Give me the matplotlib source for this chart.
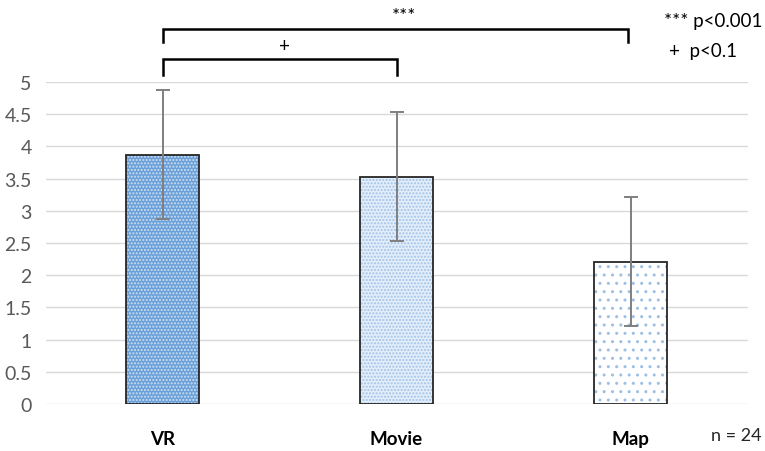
import numpy as np
import matplotlib
matplotlib.use('Agg')
import matplotlib.pyplot as plt

plt.rcParams['font.family'] = ['Lato', 'DejaVu Sans']
plt.rcParams['hatch.linewidth'] = 1.0

conditions = ['VR', 'Movie', 'Map']
means = [3.87, 3.53, 2.21]
errors = [1.0, 1.0, 1.0]
yticks = [0, 0.5, 1, 1.5, 2, 2.5, 3, 3.5, 4, 4.5, 5]

# fill colour, dot colour, hatch density per condition
styles = [
    ('#6a9fd8', '#cfe0f3', '.....'),
    ('#e3eefa', '#9fc2e8', '.....'),
    ('white', '#9dbfe6', '..'),
]

W, H = 765, 452
fig = plt.figure(figsize=(W / 100, H / 100), dpi=100)
ax = fig.add_axes([45.5 / W, 47 / H, 702 / W, 322 / H])

x = np.arange(len(conditions))
width = 0.31
for xi, m, (fc, dc, h) in zip(x, means, styles):
    ax.bar(xi, m, width, color=fc, edgecolor=dc, hatch=h, linewidth=0, zorder=2)
    ax.bar(xi, m, width, fill=False, edgecolor='#262626', linewidth=1.3, zorder=3)

ax.errorbar(x, means, yerr=errors, fmt='none', ecolor='#7f7f7f',
            elinewidth=1.4, capsize=5, capthick=1.4, zorder=4)

ax.set_xlim(-0.5, 2.5)
ax.set_ylim(0, 5)
ax.set_yticks(yticks)
ax.set_yticklabels([f'{t:g}' for t in yticks], fontsize=14, color='#595959')
ax.set_xticks(x)
ax.set_xticklabels(conditions, fontsize=13.5, fontweight='bold', color='black')
ax.tick_params(axis='both', length=0)
ax.tick_params(axis='x', pad=19)
ax.tick_params(axis='y', pad=10)
ax.grid(axis='y', color='#d9d9d9', linewidth=1)
ax.set_axisbelow(True)
for s in ax.spines.values():
    s.set_visible(False)

# significance brackets
def bracket(x0, x1, y_top, y_bot, label, lx, ly):
    ax.plot([x0, x0, x1, x1], [y_bot, y_top, y_top, y_bot], color='black',
            linewidth=1.8, clip_on=False, solid_joinstyle='miter')
    ax.text(lx, ly, label, ha='center', va='center', fontsize=13.5,
            clip_on=False)

bracket(0, 1.99, 5.83, 5.62, '***', 1.03, 6.03)
bracket(0, 1.0, 5.36, 5.11, '+', 0.52, 5.56)

fig.text(762 / W, 1 - 22 / H, '*** p<0.001', ha='right', va='center', fontsize=13.5)
fig.text(737 / W, 1 - 52 / H, '+  p<0.1', ha='right', va='center', fontsize=13.5)
fig.text(762 / W, 1 - 436 / H, 'n = 24', ha='right', va='center', fontsize=13,
         color='#262626')

fig.savefig('out.png', dpi=100)
